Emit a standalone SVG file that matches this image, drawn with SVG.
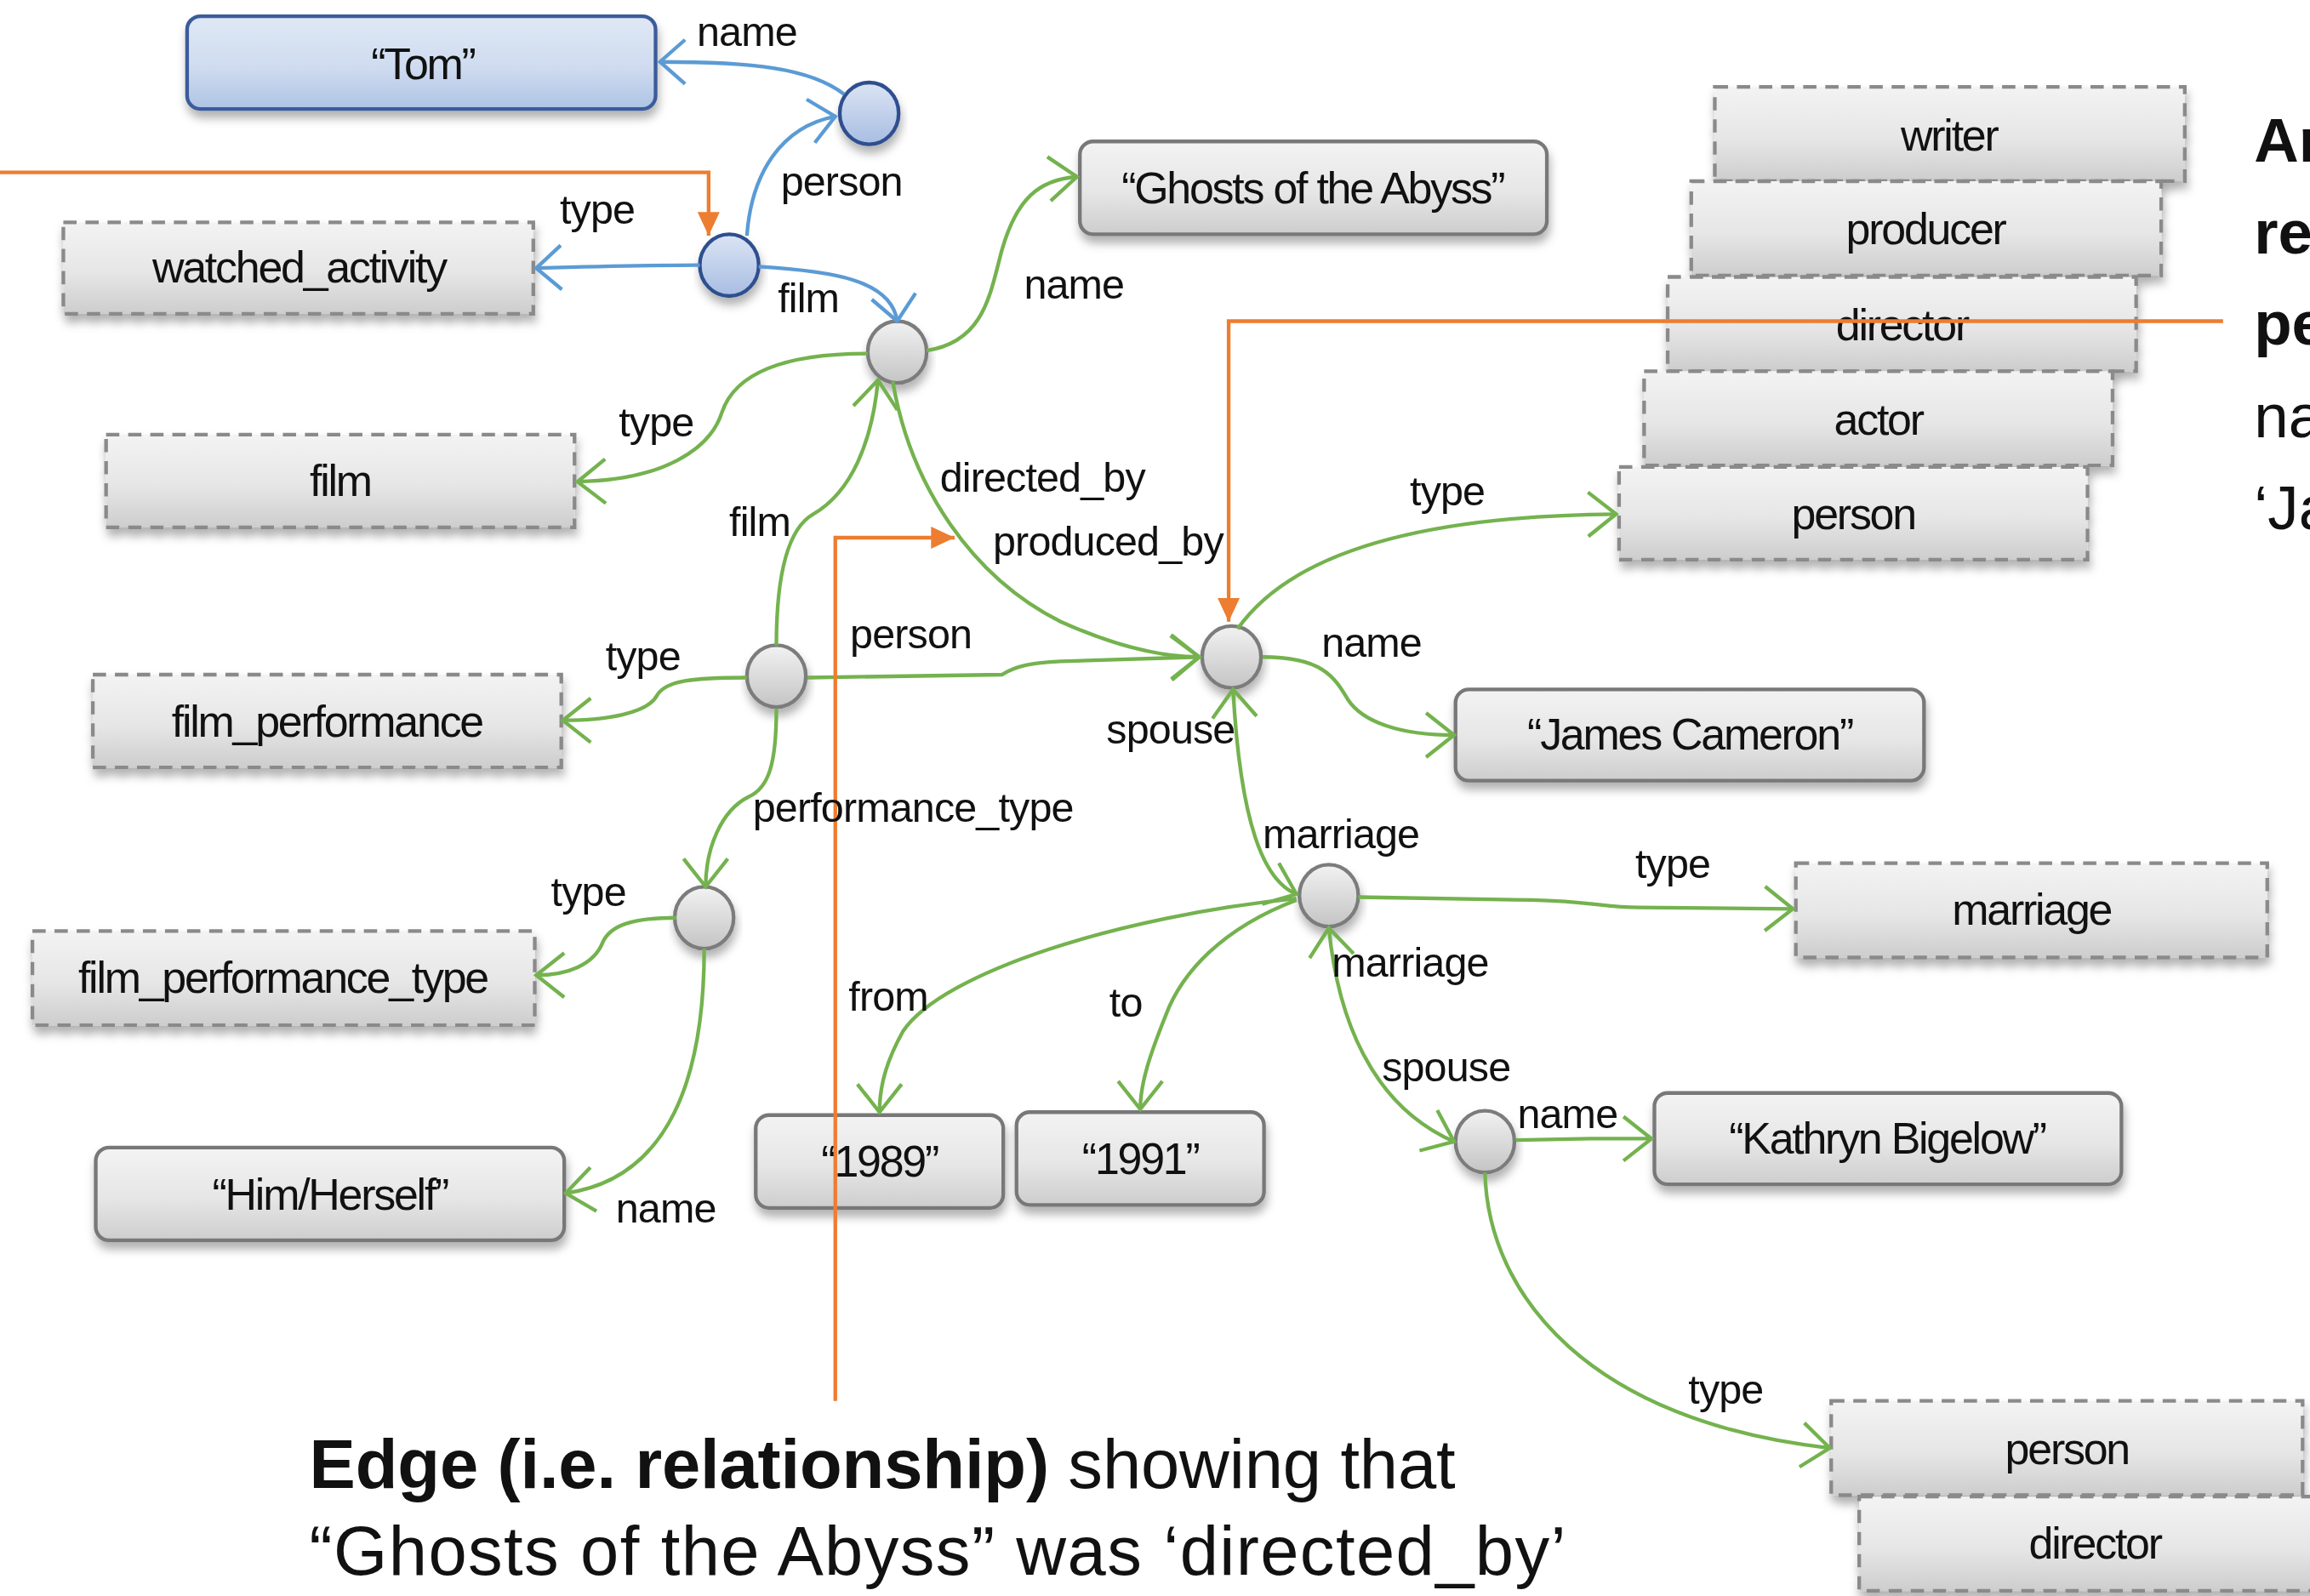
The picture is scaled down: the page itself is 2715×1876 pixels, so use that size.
<svg xmlns="http://www.w3.org/2000/svg" width="2715" height="1876" viewBox="0 0 2715 1876">
<defs>
<linearGradient id="gGray" x1="0" y1="0" x2="0" y2="1"><stop offset="0" stop-color="#f3f3f3"/><stop offset="0.55" stop-color="#e6e6e6"/><stop offset="1" stop-color="#cdcdcd"/></linearGradient>
<linearGradient id="gBlue" x1="0" y1="0" x2="0" y2="1"><stop offset="0" stop-color="#dfe8f5"/><stop offset="0.55" stop-color="#cfdcf0"/><stop offset="1" stop-color="#aec3e4"/></linearGradient>
<linearGradient id="gCirc" x1="0" y1="0" x2="0" y2="1"><stop offset="0" stop-color="#f2f2f2"/><stop offset="1" stop-color="#c4c4c4"/></linearGradient>
<linearGradient id="gCircB" x1="0" y1="0" x2="0" y2="1"><stop offset="0" stop-color="#dbe4f4"/><stop offset="1" stop-color="#a8bde2"/></linearGradient>
<filter id="sh" x="-10%" y="-20%" width="125%" height="160%"><feDropShadow dx="1" dy="5" stdDeviation="3" flood-color="#000" flood-opacity="0.3"/></filter>
<marker id="ag" viewBox="-22 -18 25 36" refX="0" refY="0" markerWidth="25" markerHeight="36" markerUnits="userSpaceOnUse" orient="auto-start-reverse"><path d="M-19,-15 L0,0 L-19,15" fill="none" stroke="#74b24e" stroke-width="2.5"/></marker>
<marker id="ab" viewBox="-22 -18 25 36" refX="0" refY="0" markerWidth="25" markerHeight="36" markerUnits="userSpaceOnUse" orient="auto"><path d="M-17,-15 L0,0 L-17,15" fill="none" stroke="#5b9bd5" stroke-width="2.5"/></marker>
<marker id="ao" viewBox="-18 -9 19 18" refX="0" refY="0" markerWidth="19" markerHeight="18" markerUnits="userSpaceOnUse" orient="auto"><path d="M-16,-7.5 L0,0 L-16,7.5 Z" fill="#ed7d31"/></marker>
<style>
.dash{fill:url(#gGray);stroke:#8a8a8a;stroke-width:2.5;stroke-dasharray:9 6;filter:url(#sh)}
.solid{fill:url(#gGray);stroke:#787878;stroke-width:2.5;filter:url(#sh)}
.blue{fill:url(#gBlue);stroke:#3b5c9c;stroke-width:2.5;filter:url(#sh)}
.circ{fill:url(#gCirc);stroke:#7c7c7c;stroke-width:2.5;filter:url(#sh)}
.circb{fill:url(#gCircB);stroke:#2f4f8f;stroke-width:2.5;filter:url(#sh)}
.nl{font-family:"Liberation Sans",Arial,sans-serif;font-size:30px;letter-spacing:-1.3px;text-anchor:middle;fill:#111}
.el{font-family:"Liberation Sans",Arial,sans-serif;font-size:28px;letter-spacing:-0.5px;fill:#111}
.eg{fill:none;stroke:#74b24e;stroke-width:2.5;marker-end:url(#ag)}
.eb{fill:none;stroke:#5b9bd5;stroke-width:2.5;marker-end:url(#ab)}
.eo{fill:none;stroke:#ed7d31;stroke-width:2.5;marker-end:url(#ao)}
.big{font-family:"Liberation Sans",Arial,sans-serif;font-size:47px;fill:#111}
.side{font-family:"Liberation Sans",Arial,sans-serif;font-size:42px;fill:#111}
</style>
</defs>
<rect x="0" y="0" width="2715" height="1876" fill="#ffffff"/>
<g transform="scale(1.7315)">
<g id="nodes">
<g id="n-tom"><rect class="blue" x="127" y="11" width="318" height="63" rx="9"/><text class="nl" x="287" y="54">“Tom”</text></g>
<g id="n-watched-activity"><rect class="dash" x="43" y="151" width="319" height="62"/><text class="nl" x="203" y="192">watched_activity</text></g>
<g id="n-ghosts"><rect class="solid" x="733" y="96" width="317" height="63" rx="9"/><text class="nl" x="891" y="138">“Ghosts of the Abyss”</text></g>
<g id="n-writer"><rect class="dash" x="1164" y="59" width="319" height="64"/><text class="nl" x="1323" y="102">writer</text></g>
<g id="n-producer"><rect class="dash" x="1148" y="123" width="319" height="64"/><text class="nl" x="1307" y="166">producer</text></g>
<g id="n-director"><rect class="dash" x="1132" y="188" width="318" height="64"/><text class="nl" x="1291" y="231">director</text></g>
<g id="n-actor"><rect class="dash" x="1116" y="252" width="318" height="64"/><text class="nl" x="1275" y="295">actor</text></g>
<g id="n-person-type"><rect class="dash" x="1099" y="317" width="318" height="63"/><text class="nl" x="1258" y="359">person</text></g>
<g id="n-film-type"><rect class="dash" x="72" y="295" width="318" height="63"/><text class="nl" x="231" y="337">film</text></g>
<g id="n-film-performance"><rect class="dash" x="63" y="458" width="318" height="63"/><text class="nl" x="222" y="500">film_performance</text></g>
<g id="n-james"><rect class="solid" x="988" y="468" width="318" height="62" rx="9"/><text class="nl" x="1147" y="509">“James Cameron”</text></g>
<g id="n-fpt"><rect class="dash" x="22" y="632" width="341" height="64"/><text class="nl" x="192" y="674">film_performance_type</text></g>
<g id="n-marriage-type"><rect class="dash" x="1219" y="586" width="320" height="64"/><text class="nl" x="1379" y="628">marriage</text></g>
<g id="n-1989"><rect class="solid" x="513" y="757" width="168" height="63" rx="9"/><text class="nl" x="597" y="799">“1989”</text></g>
<g id="n-1991"><rect class="solid" x="690" y="755" width="168" height="63" rx="9"/><text class="nl" x="774" y="797">“1991”</text></g>
<g id="n-kathryn"><rect class="solid" x="1123" y="742" width="317" height="62" rx="9"/><text class="nl" x="1281" y="783">“Kathryn Bigelow”</text></g>
<g id="n-him"><rect class="solid" x="65" y="779" width="318" height="63" rx="9"/><text class="nl" x="224" y="821">“Him/Herself”</text></g>
<g id="n-person-b"><rect class="dash" x="1243" y="951" width="320" height="64"/><text class="nl" x="1403" y="994">person</text></g>
<g id="n-director-b"><rect class="dash" x="1262" y="1016" width="320" height="64"/><text class="nl" x="1422" y="1058">director</text></g>
<g id="c-person"><ellipse class="circb" cx="590" cy="77" rx="20" ry="21"/></g>
<g id="c-watched"><ellipse class="circb" cx="495" cy="180" rx="20" ry="21"/></g>
<g id="c-film"><ellipse class="circ" cx="609" cy="239" rx="20" ry="21"/></g>
<g id="c-fp"><ellipse class="circ" cx="527" cy="459" rx="20" ry="21"/></g>
<g id="c-james"><ellipse class="circ" cx="836" cy="446" rx="20" ry="21"/></g>
<g id="c-fpt"><ellipse class="circ" cx="478" cy="623" rx="20" ry="21"/></g>
<g id="c-marriage"><ellipse class="circ" cx="902" cy="608" rx="20" ry="21"/></g>
<g id="c-kathryn"><ellipse class="circ" cx="1008" cy="775" rx="20" ry="21"/></g>
</g>
<g id="connectors">
<path class="eb" d="M573,64 C550,46 510,42 448,42"/>
<path class="eb" d="M507,160 C510,118 530,86 567,79"/>
<path class="eb" d="M475,180 C440,180 400,181 364,182"/>
<path class="eb" d="M515,181 C565,184 605,190 609,218"/>
<path class="eg" d="M629,238 C668,232 672,200 680,170 C690,135 705,122 731,120"/>
<path class="eg" d="M589,240 C540,240 500,250 490,280 C482,305 450,326 392,327"/>
<path class="eg" d="M527,438 C527,380 538,357 552,349 C578,334 592,300 596,258"/>
<path class="eg" d="M606,259 C618,330 660,392 720,422 C760,440 790,446 814,446"/>
<path class="eg" d="M548,460 L680,458 C690,452 700,450 720,449 L814,446"/>
<path class="eg" d="M507,460 C470,460 452,462 446,472 C440,484 412,489 382,489"/>
<path class="eg" d="M527,481 C527,518 522,535 508,541 C490,550 479,575 479,602"/>
<path class="eg" d="M459,623 C430,623 414,628 409,640 C403,655 385,662 364,662"/>
<path class="eg" d="M478,644 C478,730 455,800 384,810"/>
<path class="eg" d="M840,427 C880,370 980,350 1097,349"/>
<path class="eg" d="M857,446 C898,446 906,460 915,475 C925,490 950,499 987,499"/>
<path class="eg" style="marker-start:url(#ag)" d="M880,607 C858,598 842,560 837,468"/>
<path class="eg" d="M922,609 L1040,611 C1080,612 1090,616 1112,616 L1217,617"/>
<path class="eg" d="M880,610 C760,622 640,660 613,700 C603,718 597,735 597,755"/>
<path class="eg" d="M880,611 C830,630 802,660 791,690 C781,715 774,735 774,753"/>
<path class="eg" style="marker-start:url(#ag)" d="M902,630 C908,690 930,750 987,775"/>
<path class="eg" d="M1029,774 L1080,773 L1121,773"/>
<path class="eg" d="M1008,796 C1010,880 1080,965 1242,983"/>
<path class="eo" d="M0,117 L481,117 L481,160"/>
<path class="eo" d="M1509,218 L834,218 L834,422"/>
<path class="eo" d="M567,951 L567,365 L648,365"/>
<text class="el" x="473" y="31">name</text>
<text class="el" x="530" y="133">person</text>
<text class="el" x="380" y="152">type</text>
<text class="el" x="528" y="212">film</text>
<text class="el" x="695" y="203">name</text>
<text class="el" x="420" y="296">type</text>
<text class="el" x="638" y="334">directed_by</text>
<text class="el" x="495" y="364">film</text>
<text class="el" x="674" y="377">produced_by</text>
<text class="el" x="957" y="343">type</text>
<text class="el" x="577" y="440">person</text>
<text class="el" x="411" y="455">type</text>
<text class="el" x="897" y="446">name</text>
<text class="el" x="751" y="505">spouse</text>
<text class="el" x="511" y="558">performance_type</text>
<text class="el" x="857" y="576">marriage</text>
<text class="el" x="1110" y="596">type</text>
<text class="el" x="374" y="615">type</text>
<text class="el" x="904" y="663">marriage</text>
<text class="el" x="576" y="686">from</text>
<text class="el" x="753" y="690">to</text>
<text class="el" x="938" y="734">spouse</text>
<text class="el" x="1030" y="766">name</text>
<text class="el" x="418" y="830">name</text>
<text class="el" x="1146" y="953">type</text>
</g>
<g id="annotations">
<text class="big" x="210" y="1010" textLength="778"><tspan font-weight="bold">Edge (i.e. relationship)</tspan> showing that</text>
<text class="big" x="210" y="1069" textLength="853">“Ghosts of the Abyss” was ‘directed_by’</text>
<text class="side" x="1530" y="110" font-weight="bold">An</text>
<text class="side" x="1530" y="172" font-weight="bold">re</text>
<text class="side" x="1530" y="234" font-weight="bold">pe</text>
<text class="side" x="1530" y="297">na</text>
<text class="side" x="1530" y="359">‘Ja</text>
</g>
</g>
</svg>
